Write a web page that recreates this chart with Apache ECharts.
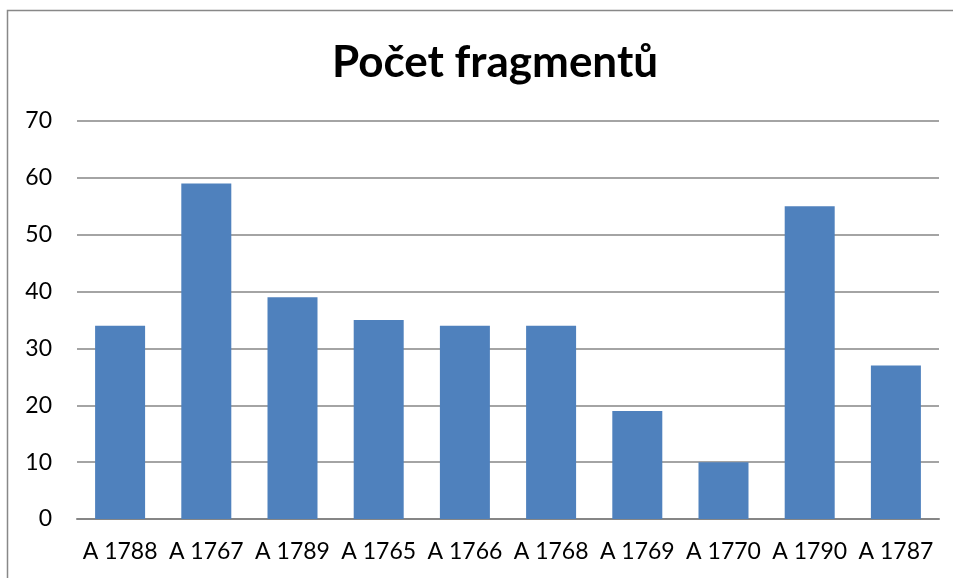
<!DOCTYPE html>
<html>
<head>
<meta charset="utf-8">
<script src="https://cdn.jsdelivr.net/npm/echarts@6/dist/echarts.min.js"></script>
<style>
  html, body { margin: 0; padding: 0; background: #fff; }
  #chart { width: 953px; height: 578px; }
</style>
</head>
<body>
<div id="chart"></div>
<script>
var categories = ['A 1788', 'A 1767', 'A 1789', 'A 1765', 'A 1766', 'A 1768', 'A 1769', 'A 1770', 'A 1790', 'A 1787'];
var values = [34, 59, 39, 35, 34, 34, 19, 10, 55, 27];
var titleText = 'Počet fragmentů';

var font = 'Lato, "Open Sans", sans-serif';

var option = {
  animation: false,
  backgroundColor: '#fff',
  title: {
    text: titleText,
    left: 490,
    textAlign: 'center',
    top: 36,
    textStyle: { fontFamily: font, fontSize: 44, fontWeight: 'bold', color: '#000' }
  },
  graphic: [{
    type: 'rect',
    shape: { x: 7.5, y: 10.5, width: 960, height: 600 },
    style: { fill: 'none', stroke: '#888', lineWidth: 1.5 },
    silent: true
  }],
  grid: { left: 77, right: 14, top: 121, bottom: 59 },
  xAxis: {
    type: 'category',
    data: categories,
    axisTick: { show: false },
    axisLine: { lineStyle: { color: '#868686', width: 2 } },
    axisLabel: { fontFamily: font, fontSize: 23, color: '#000', margin: 21, interval: 0 }
  },
  yAxis: {
    type: 'value',
    min: 0,
    max: 70,
    interval: 10,
    axisLine: { show: false },
    axisTick: { show: false },
    splitLine: { lineStyle: { color: '#868686', width: 1.5 } },
    axisLabel: { fontFamily: font, fontSize: 23, color: '#000', margin: 25 }
  },
  series: [{
    type: 'bar',
    data: values,
    barWidth: '58%',
    itemStyle: { color: '#4F81BD' }
  }]
};

var myChart = echarts.init(document.getElementById('chart'));
myChart.setOption(option);
</script>
</body>
</html>
